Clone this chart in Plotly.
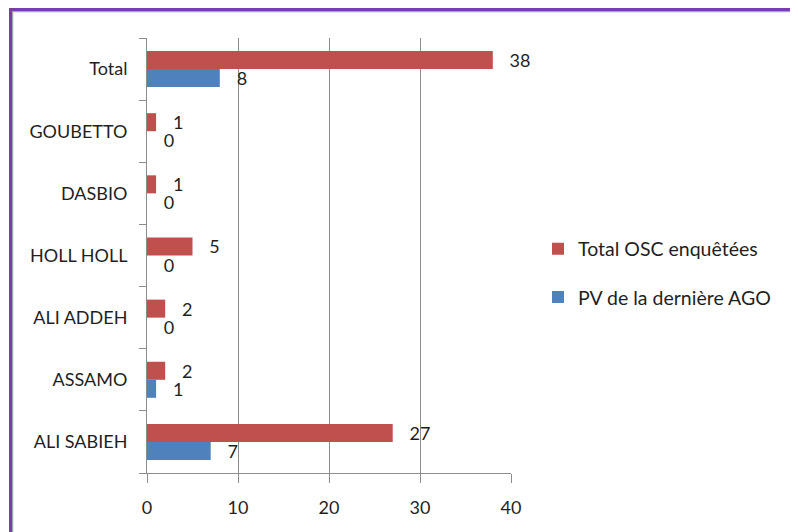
import plotly.graph_objects as go

categories = ["ALI SABIEH", "ASSAMO", "ALI ADDEH", "HOLL HOLL", "DASBIO", "GOUBETTO", "Total"]
total_osc = [27, 2, 2, 5, 1, 1, 38]
pv_ago = [7, 1, 0, 0, 0, 0, 8]
x_ticks = [0, 10, 20, 30, 40]

RED = "#C0504D"
BLUE = "#4F81BD"
FONT = "Lato"
TXT = "#1f1f1f"

# the page body adds an 8px offset; positions below are screen pixels
OFF = 8
L, R, T, B = 147 - OFF, 511 - OFF, 38 - OFF, 473 - OFF
W, H = 798 - OFF, 532 - OFF

def px(x):
    return (x - OFF - L) / (R - L)

def py(y):
    return (B - (y - OFF)) / (B - T)

fig = go.Figure()
fig.add_trace(go.Bar(
    y=categories, x=pv_ago, orientation="h", name="PV de la dernière AGO",
    marker=dict(color=BLUE, line=dict(width=0)),
    text=pv_ago, texttemplate="   %{x}", textposition="outside", constraintext="none",
    textfont=dict(family=FONT, size=18, color=TXT), cliponaxis=False,
    legendrank=2, legendgroup="b",
))
fig.add_trace(go.Bar(
    y=categories, x=total_osc, orientation="h", name="Total OSC enquêtées",
    marker=dict(color=RED, line=dict(width=0)),
    text=total_osc, texttemplate="   %{x}", textposition="outside", constraintext="none",
    textfont=dict(family=FONT, size=18, color=TXT), cliponaxis=False,
    legendrank=1, legendgroup="a",
))

fig.update_layout(
    width=W, height=H,
    margin=dict(l=L, r=W - R, t=T, b=H - B, pad=0, autoexpand=False),
    paper_bgcolor="white", plot_bgcolor="white",
    barmode="group", bargap=0.42, bargroupgap=0,
    font=dict(family=FONT, size=18, color=TXT),
    showlegend=True,
    legend=dict(
        x=px(538), y=py(273), xanchor="left", yanchor="middle",
        tracegroupgap=20,
        font=dict(family=FONT, size=19.5, color=TXT),
        itemwidth=30, bgcolor="rgba(0,0,0,0)",
    ),
    xaxis=dict(
        range=[0, 40], tickvals=x_ticks, showgrid=True, gridcolor="#8c8c8c", gridwidth=1,
        showline=True, linecolor="#8c8c8c", linewidth=1,
        ticks="outside", ticklen=9, tickcolor="#8c8c8c", automargin=False,
        tickfont=dict(family=FONT, size=18, color=TXT), zeroline=False,
        ticklabelstandoff=9,
    ),
    yaxis=dict(
        type="category", categoryorder="array", categoryarray=categories,
        showgrid=False, showline=True, linecolor="#8c8c8c", linewidth=1,
        ticks="outside", ticklen=7, tickcolor="#8c8c8c", tickson="boundaries",
        automargin=False,
        tickfont=dict(family=FONT, size=18, color=TXT), ticklabelstandoff=15,
    ),
    shapes=[
        dict(type="rect", xref="paper", yref="paper",
             x0=px(12.5), x1=px(791), y0=py(560), y1=py(11.5),
             line=dict(color="#a6a6a6", width=1.5), layer="above"),
        dict(type="rect", xref="paper", yref="paper",
             x0=px(10.5), x1=px(793), y0=py(560), y1=py(9.5),
             line=dict(color="#7a3db0", width=3), layer="above"),
    ],
)

fig.write_html("out.html")
